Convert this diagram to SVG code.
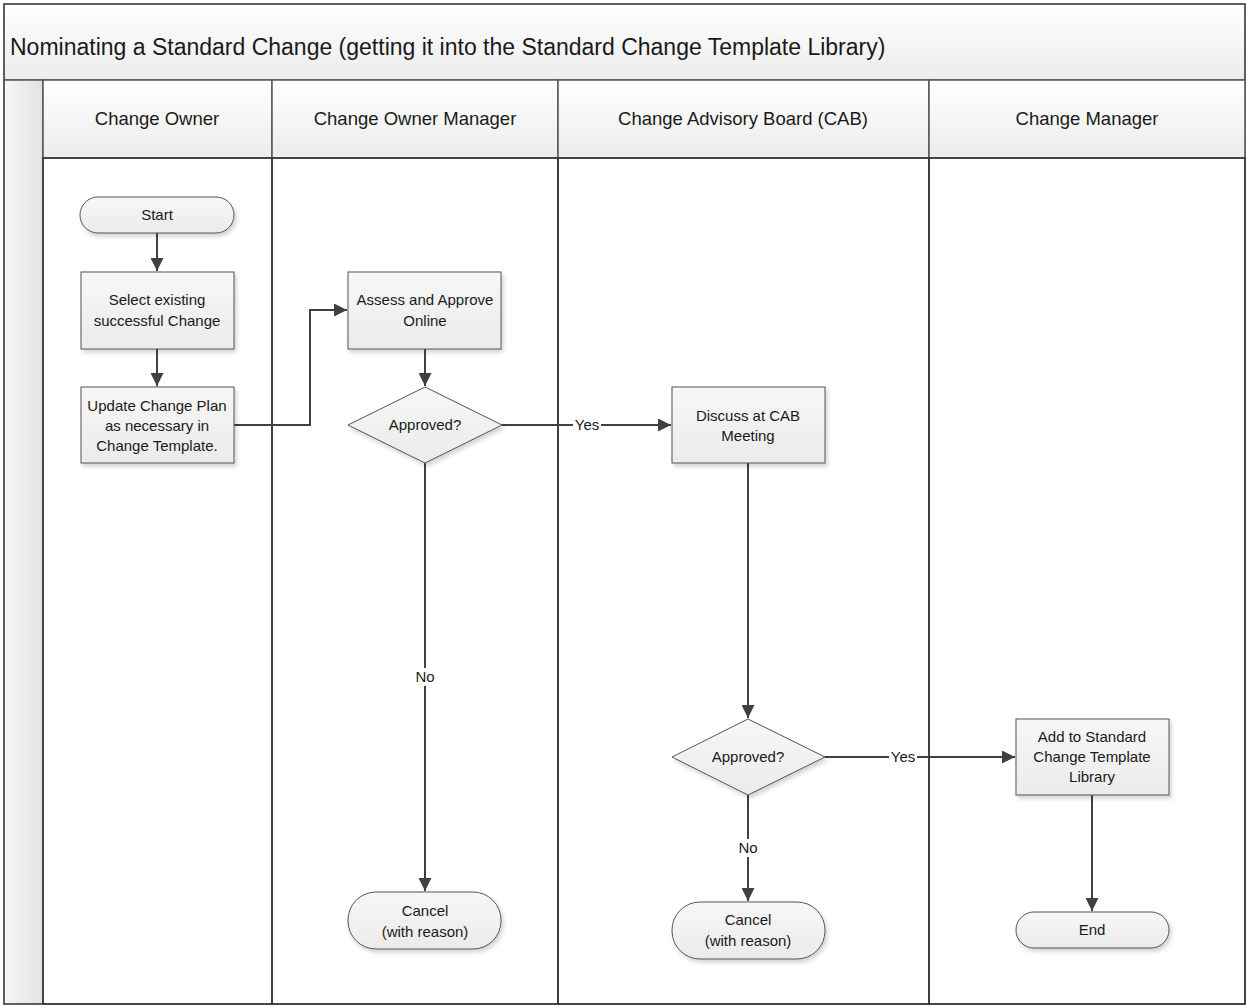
<svg xmlns="http://www.w3.org/2000/svg" width="1247" height="1007" viewBox="0 0 1247 1007">
<defs>
<linearGradient id="hdr" x1="0" y1="0" x2="0" y2="1"><stop offset="0" stop-color="#ffffff"/><stop offset="1" stop-color="#ececec"/></linearGradient>
<linearGradient id="strip" x1="0" y1="0" x2="1" y2="0"><stop offset="0" stop-color="#f7f7f7"/><stop offset="1" stop-color="#e2e2e2"/></linearGradient>
<linearGradient id="nodefill" x1="0" y1="0" x2="0" y2="1"><stop offset="0" stop-color="#f7f7f7"/><stop offset="1" stop-color="#ebebeb"/></linearGradient>
<filter id="sh" x="-10%" y="-10%" width="130%" height="140%"><feDropShadow dx="2" dy="3" stdDeviation="2" flood-color="#000" flood-opacity="0.18"/></filter>
<marker id="arr" viewBox="0 0 10 10" refX="10" refY="5" markerWidth="6.5" markerHeight="6.5" markerUnits="strokeWidth" orient="auto"><path d="M0,0 L10,5 L0,10 z" fill="#404040"/></marker>
<style>
.frame{fill:none;stroke:#555;stroke-width:1.5}
.hdr{fill:url(#hdr);stroke:#555;stroke-width:1.5}
.lane{fill:none;stroke:#333;stroke-width:1.5}
.node{fill:url(#nodefill);stroke:#555;stroke-width:1;filter:url(#sh)}
.t{font-family:"Liberation Sans",Arial,sans-serif;font-size:15px;fill:#1a1a1a;text-anchor:middle}
.h{font-family:"Liberation Sans",Arial,sans-serif;font-size:18.5px;fill:#1a1a1a;text-anchor:middle}
.title{font-family:"Liberation Sans",Arial,sans-serif;font-size:23px;fill:#1a1a1a}
.c{fill:none;stroke:#404040;stroke-width:2}
.lbl{font-family:"Liberation Sans",Arial,sans-serif;font-size:15px;fill:#1a1a1a;text-anchor:middle}
.lblbg{fill:#fff}
</style>
</defs>
<rect x="0" y="0" width="1247" height="1007" fill="#fff"/>
<g id="pool">
<rect class="hdr" x="4" y="4" width="1241" height="76"/>
<text class="title" x="10" y="55">Nominating a Standard Change (getting it into the Standard Change Template Library)</text>
<rect x="4" y="80" width="39" height="924" fill="url(#strip)" stroke="#555" stroke-width="1.5"/>
<rect class="frame" x="4" y="4" width="1241" height="1000"/>
</g>
<g id="lane-change-owner">
<rect class="hdr" x="43" y="80" width="229" height="78"/>
<text class="h" x="157" y="125">Change Owner</text>
<rect class="lane" x="43" y="158" width="229" height="846"/>
</g>
<g id="lane-change-owner-manager">
<rect class="hdr" x="272" y="80" width="286" height="78"/>
<text class="h" x="415" y="125">Change Owner Manager</text>
<rect class="lane" x="272" y="158" width="286" height="846"/>
</g>
<g id="lane-cab">
<rect class="hdr" x="558" y="80" width="371" height="78"/>
<text class="h" x="743" y="125">Change Advisory Board (CAB)</text>
<rect class="lane" x="558" y="158" width="371" height="846"/>
</g>
<g id="lane-change-manager">
<rect class="hdr" x="929" y="80" width="316" height="78"/>
<text class="h" x="1087" y="125">Change Manager</text>
<rect class="lane" x="929" y="158" width="316" height="846"/>
</g>
<g id="connectors">
<path class="c" d="M157,233 V271" marker-end="url(#arr)"/>
<path class="c" d="M157,349 V386" marker-end="url(#arr)"/>
<path class="c" d="M234,425 H310 V310 H347" marker-end="url(#arr)"/>
<path class="c" d="M425,349 V386" marker-end="url(#arr)"/>
<path class="c" d="M502,425 H671" marker-end="url(#arr)"/>
<path class="c" d="M425,463 V891" marker-end="url(#arr)"/>
<path class="c" d="M748,463 V718" marker-end="url(#arr)"/>
<path class="c" d="M825,757 H1015" marker-end="url(#arr)"/>
<path class="c" d="M748,795 V901" marker-end="url(#arr)"/>
<path class="c" d="M1092,795 V911" marker-end="url(#arr)"/>
<rect class="lblbg" x="573" y="416" width="28" height="18"/>
<text class="lbl" x="587" y="430">Yes</text>
<rect class="lblbg" x="413" y="668" width="24" height="18"/>
<text class="lbl" x="425" y="682">No</text>
<rect class="lblbg" x="889" y="748" width="28" height="18"/>
<text class="lbl" x="903" y="762">Yes</text>
<rect class="lblbg" x="736" y="839" width="24" height="18"/>
<text class="lbl" x="748" y="853">No</text>
</g>
<g id="start">
<rect class="node" x="80" y="197" width="154" height="36" rx="18"/>
<text class="t" x="157" y="220">Start</text>
</g>
<g id="select-existing">
<rect class="node" x="81" y="272" width="153" height="77"/>
<text class="t" x="157" y="305">Select existing</text>
<text class="t" x="157" y="326">successful Change</text>
</g>
<g id="update-plan">
<rect class="node" x="81" y="387" width="153" height="76"/>
<text class="t" x="157" y="411">Update Change Plan</text>
<text class="t" x="157" y="431">as necessary in</text>
<text class="t" x="157" y="451">Change Template.</text>
</g>
<g id="assess-approve">
<rect class="node" x="348" y="272" width="153" height="77"/>
<text class="t" x="425" y="305">Assess and Approve</text>
<text class="t" x="425" y="326">Online</text>
</g>
<g id="approved-1">
<polygon class="node" points="425,387 502,425 425,463 348,425"/>
<text class="t" x="425" y="430">Approved?</text>
</g>
<g id="discuss-cab">
<rect class="node" x="672" y="387" width="153" height="76"/>
<text class="t" x="748" y="421">Discuss at CAB</text>
<text class="t" x="748" y="441">Meeting</text>
</g>
<g id="approved-2">
<polygon class="node" points="748,719 825,757 748,795 672,757"/>
<text class="t" x="748" y="762">Approved?</text>
</g>
<g id="add-library">
<rect class="node" x="1016" y="719" width="153" height="76"/>
<text class="t" x="1092" y="742">Add to Standard</text>
<text class="t" x="1092" y="762">Change Template</text>
<text class="t" x="1092" y="782">Library</text>
</g>
<g id="end">
<rect class="node" x="1016" y="912" width="153" height="36" rx="18"/>
<text class="t" x="1092" y="935">End</text>
</g>
<g id="cancel-1">
<rect class="node" x="348" y="892" width="153" height="57" rx="28"/>
<text class="t" x="425" y="916">Cancel</text>
<text class="t" x="425" y="937">(with reason)</text>
</g>
<g id="cancel-2">
<rect class="node" x="672" y="902" width="153" height="57" rx="28"/>
<text class="t" x="748" y="925">Cancel</text>
<text class="t" x="748" y="946">(with reason)</text>
</g>
</svg>
